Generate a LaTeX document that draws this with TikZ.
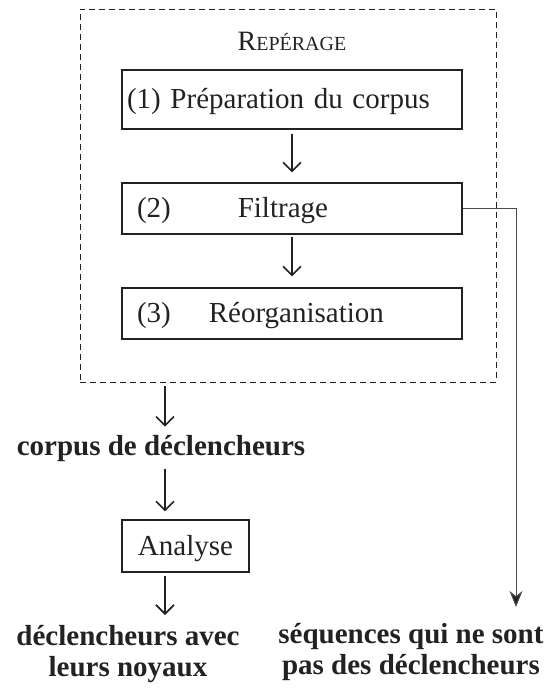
\documentclass[tikz,border=0pt]{standalone}
\usepackage{fontspec}
\setmainfont{Liberation Serif}
\usetikzlibrary{arrows.meta}

\definecolor{inkgrey}{HTML}{222222}
\newcommand\bigfont{\fontsize{29}{31}\selectfont}
\tikzset{
  stepbox/.style={draw=inkgrey, line width=1.1pt, align=left, text=inkgrey,
    text height=21pt, text depth=3pt, inner ysep=0pt},
  flow/.style={draw=inkgrey, line width=1.6pt, -{Straight Barb[length=9pt,width=18pt,line width=1.6pt]}},
  result/.style={font=\bigfont\bfseries, text=inkgrey, align=center, inner sep=3pt}
}

\begin{document}
\begin{tikzpicture}[x=1pt, y=-1pt, font=\bigfont]
  \useasboundingbox (0,0) rectangle (556,688);

  %%% reperage
  \node[draw=inkgrey, line width=1pt, dash pattern=on 6pt off 4pt,
    minimum width=416pt, minimum height=373pt, inner sep=0pt] (repere) at (288,195.5) {};
  \node[anchor=base, text=inkgrey] (titre) at (292,50)
    {\fontsize{28}{30}\selectfont R\fontsize{20}{30}\selectfont EPÉRAGE};

  \node[stepbox, minimum height=59pt, text width=330pt, inner xsep=5pt] (prep) at (292,99.5)
    {(1) Préparation du corpus};
  \node[stepbox, minimum height=51pt, text width=310pt, inner xsep=15pt] (filtre) at (292,208.5)
    {(2)\hspace{67pt}Filtrage};
  \node[stepbox, minimum height=51pt, text width=310pt, inner xsep=15pt] (reorg) at (292,313.5)
    {(3)\hspace{38pt}Réorganisation};

  \draw[flow, shorten <=4pt, shorten >=10pt] (prep) -- (filtre);
  \draw[flow, shorten <=2pt, shorten >=11pt] (filtre) -- (reorg);

  %%% analyse
  \coordinate (col) at (165,0);
  \coordinate (col2) at (516,0);
  \node[result, anchor=base] (corpus) at (161,455) {corpus de déclencheurs};
  \node[stepbox, align=center, minimum width=127pt, minimum height=52pt] (analyse) at (185.5,546) {Analyse};
  \node[result, anchor=north] (noyaux) at (128,622) {déclencheurs avec\\leurs noyaux};
  \node[result, anchor=north] (rejet) at (411,620) {séquences qui ne sont\\pas des déclencheurs};

  \draw[flow, shorten <=3pt, shorten >=5pt] (repere.south -| col) -- (corpus.north -| col);
  \draw[flow, shorten <=5pt, shorten >=8pt] (corpus.south -| col) -- (analyse.north -| col);
  \draw[flow, shorten <=3pt, shorten >=7pt] (analyse.south -| col) -- (noyaux.north -| col);

  \draw[draw=black!70, line width=1pt, -{Stealth[length=16pt,width=13pt,inset=5pt,fill=inkgrey]}, shorten >=13pt]
    (filtre.east) -| (rejet.north -| col2);
\end{tikzpicture}
\end{document}
